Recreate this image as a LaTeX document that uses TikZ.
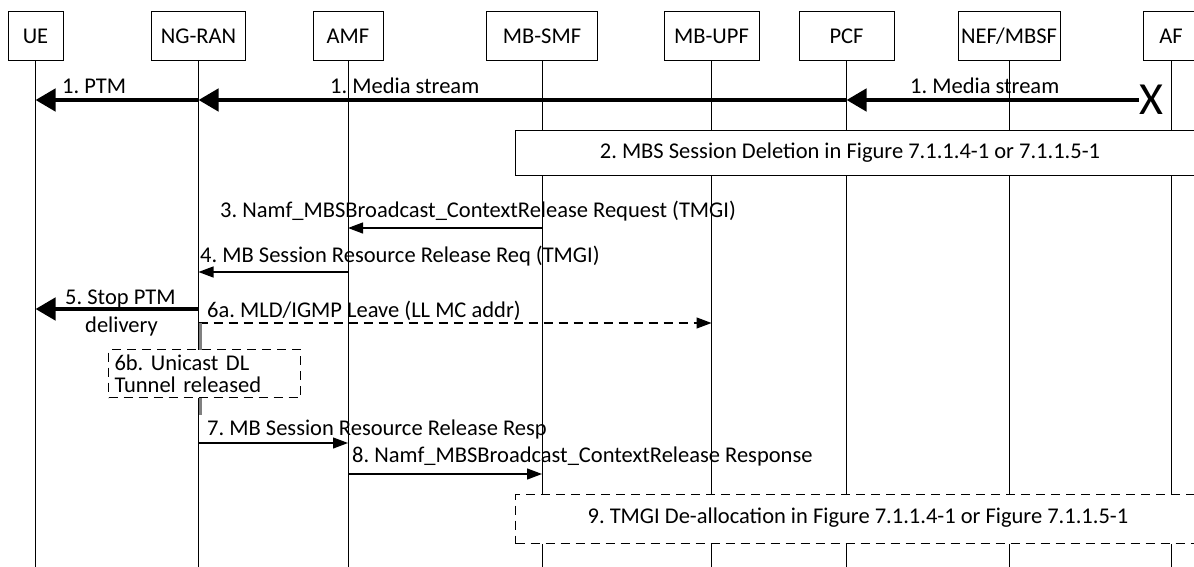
\documentclass[tikz,border=0pt]{standalone}
\usepackage{fontspec}
\setmainfont{Carlito}
\usetikzlibrary{arrows.meta,calc}
\frenchspacing
\begin{document}
\begin{tikzpicture}[x=1pt,y=-1pt,
  fnt/.style={font=\fontsize{22.5}{22}\selectfont},
  actor/.style={draw, line width=1pt, fill=white, minimum height=49pt, inner sep=0pt, fnt},
  life/.style={line width=1pt},
  msg/.style={line width=1.2pt, -{Triangle[length=15pt,width=11pt]}},
  bigmsg/.style={line width=4.5pt, -{Triangle[length=20pt,width=22pt]}},
  dmsg/.style={msg, dash pattern=on 9pt off 6pt},
  lbl/.style={fnt, inner sep=0pt, anchor=base west},
  sbox/.style={draw, line width=1pt, fill=white, anchor=north west},
  dbox/.style={sbox, dash pattern=on 9pt off 6pt}
]
\useasboundingbox (0,0) rectangle (1194,567);
\fill[white] (0,0) rectangle (1194,567);
\coordinate (bot) at (0,567);

% actors
\node[actor, minimum width=55pt]  (ue)    at (35.5,36.5)  {UE};
\node[actor, minimum width=94pt]  (ngran) at (198.5,36.5) {NG-RAN};
\node[actor, minimum width=70pt]  (amf)   at (348,36.5)   {AMF};
\node[actor, minimum width=111pt] (smf)   at (542,36.5)   {MB-SMF};
\node[actor, minimum width=95pt]  (upf)   at (711.5,36.5) {MB-UPF};
\node[actor, minimum width=95pt]  (pcf)   at (846.5,36.5) {PCF};
\node[actor, minimum width=102pt] (nef)   at (1009,36.5)  {NEF/MBSF};
\node[actor, minimum width=56pt]  (af)    at (1171,36.5)  {AF};

% lifelines
\foreach \n in {ue,ngran,amf,smf,upf,pcf,nef,af}
  \draw[life] (\n.south) -- (\n.south |- bot);

% step 1
\node[font=\fontsize{46}{46}\selectfont, inner sep=0pt] (xx) at (1151,100) {X};
\coordinate (m1) at (xx.west);
\draw[bigmsg] (m1) -- (pcf |- m1);
\draw[bigmsg] (pcf |- m1) -- (ngran |- m1);
\draw[bigmsg] (ngran |- m1) -- (ue |- m1);
\node[lbl] (l1a) at (62,94) {1. PTM};
\node[lbl] (l1b) at (330,94) {1. Media stream};
\node[lbl] (l1c) at (910,94) {1. Media stream};

% step 2
\node[sbox, minimum width=690pt, minimum height=45pt] (b2) at (515,130) {};
\node[fnt, inner sep=0pt] (t2) at (850,153) {2. MBS Session Deletion in Figure 7.1.1.4-1 or 7.1.1.5-1};

% step 3
\coordinate (y3) at (0,228);
\draw[msg] (smf |- y3) -- (amf |- y3);
\node[lbl] (l3) at (220,217) {3. Namf\_MBSBroadcast\_ContextRelease Request (TMGI)};

% step 4
\coordinate (y4) at (0,272);
\draw[msg] (amf |- y4) -- (ngran |- y4);
\node[lbl] (l4) at (200,262) {4. MB Session Resource Release Req (TMGI)};

% step 5
\coordinate (y5) at (0,309);
\draw[bigmsg] (ngran |- y5) -- (ue |- y5);
\node[lbl] (l5a) at (65,304) {5. Stop PTM};
\node[lbl] (l5b) at (85,332) {delivery};

% step 6a
\coordinate (y6) at (0,323);
\draw[dmsg] (ngran |- y6) -- (upf |- y6);
\node[lbl] (l6) at (207,317) {6a. MLD/IGMP Leave (LL MC addr)};

% activation marker on NG-RAN
\draw[gray, line width=2.5pt] (200.5,323) -- (200.5,415);

% step 6b
\node[dbox, minimum width=192pt, minimum height=48pt, text width=180pt, inner xsep=6pt, inner ysep=2pt, align=left, fnt] (b6) at (108,349) {6b. Unicast DL\\Tunnel released};

% step 7
\coordinate (y7) at (0,443);
\draw[msg] (ngran |- y7) -- (amf |- y7);
\node[lbl] (l7) at (207,435) {7. MB Session Resource Release Resp};

% step 8
\coordinate (y8) at (0,474);
\draw[msg] (amf |- y8) -- (smf |- y8);
\node[lbl] (l8) at (352,462) {8. Namf\_MBSBroadcast\_ContextRelease Response};

% step 9
\node[dbox, minimum width=690pt, minimum height=49pt] (b9) at (515,494) {};
\node[fnt, inner sep=0pt] (t9) at (858,518) {9. TMGI De-allocation in Figure 7.1.1.4-1 or Figure 7.1.1.5-1};
\end{tikzpicture}
\end{document}
